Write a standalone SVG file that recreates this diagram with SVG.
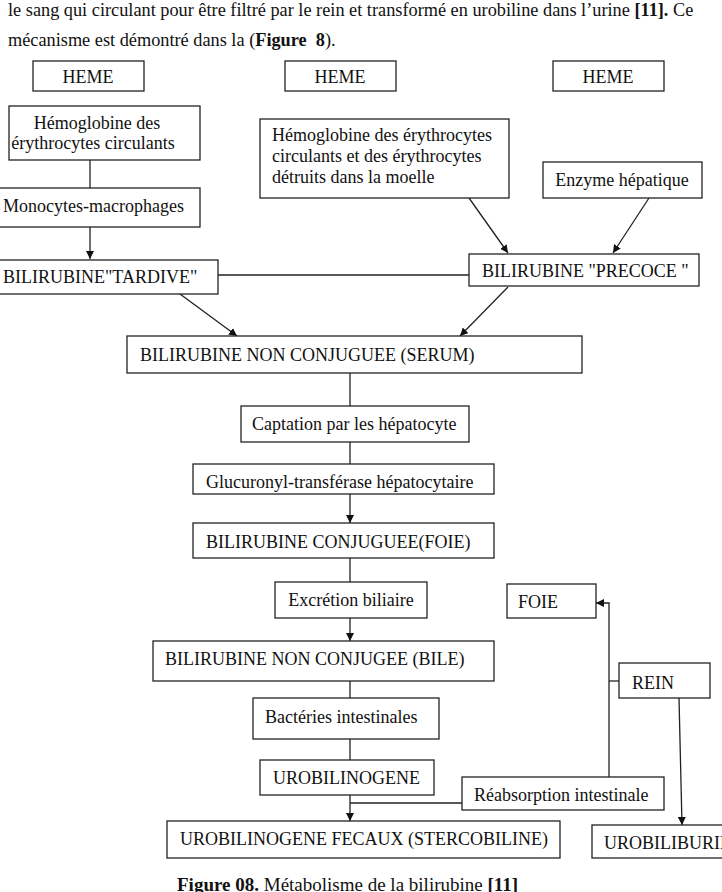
<svg xmlns="http://www.w3.org/2000/svg" width="722" height="892" viewBox="0 0 722 892">
<style>
text{font-family:"Liberation Serif","Times New Roman",serif;font-size:18px;fill:#111}
.b{font-weight:bold}
rect{fill:#fff;stroke:#222;stroke-width:1.3}
.c line,.c polyline{stroke:#222;stroke-width:1.3;fill:none}
.m{text-anchor:middle}
</style>
<defs>
<marker id="ah" viewBox="0 0 10 10" refX="10" refY="5" markerWidth="8" markerHeight="8" markerUnits="userSpaceOnUse" orient="auto">
<path d="M0,0 L10,5 L0,10 z" fill="#111"/>
</marker>
</defs>
<rect x="0" y="0" width="722" height="892" style="stroke:none"/>
<g id="para">
<text x="8" y="16" style="font-size:18.3px">le sang qui circulant pour être filtré par le rein et transformé en urobiline dans l’urine <tspan class="b">[11].</tspan> Ce</text>
<text x="8" y="46" style="font-size:18.3px">mécanisme est démontré dans la (<tspan class="b">Figure&#160; 8</tspan>).</text>
</g>
<g class="c" id="connectors">
<line x1="90" y1="160" x2="90" y2="188"/>
<line x1="90" y1="227" x2="90" y2="259" marker-end="url(#ah)"/>
<line x1="218" y1="275" x2="469" y2="275"/>
<line x1="469" y1="198" x2="508" y2="253" marker-end="url(#ah)"/>
<line x1="649" y1="198" x2="613" y2="253" marker-end="url(#ah)"/>
<line x1="180" y1="294" x2="237" y2="336" marker-end="url(#ah)"/>
<line x1="508" y1="287" x2="460" y2="336" marker-end="url(#ah)"/>
<line x1="350" y1="373" x2="350" y2="406"/>
<line x1="350" y1="442" x2="350" y2="464"/>
<line x1="350" y1="494" x2="350" y2="523" marker-end="url(#ah)"/>
<line x1="350" y1="558" x2="350" y2="582"/>
<line x1="350" y1="618" x2="350" y2="641" marker-end="url(#ah)"/>
<line x1="350" y1="681" x2="350" y2="698"/>
<line x1="350" y1="739" x2="350" y2="760"/>
<line x1="350" y1="795" x2="350" y2="821" marker-end="url(#ah)"/>
<line x1="350" y1="803" x2="462" y2="803"/>
<polyline points="609,777 609,603 596,603" marker-end="url(#ah)"/>
<line x1="609" y1="681" x2="619" y2="681"/>
<line x1="679" y1="698" x2="682" y2="825" marker-end="url(#ah)"/>
</g>
<g id="heme1"><rect x="33" y="61" width="111" height="30"/><text class="m" x="88" y="83">HEME</text></g>
<g id="heme2"><rect x="285" y="61" width="111" height="30"/><text class="m" x="340" y="83">HEME</text></g>
<g id="heme3"><rect x="553" y="61" width="111" height="30"/><text class="m" x="608" y="83">HEME</text></g>
<g id="hemo1"><rect x="9" y="106" width="191" height="54"/><text class="m" x="97" y="129">Hémoglobine des</text><text class="m" x="93" y="149">érythrocytes circulants</text></g>
<g id="mono"><rect x="-2" y="188" width="202" height="39"/><text x="3" y="212">Monocytes-macrophages</text></g>
<g id="tardive"><rect x="-2" y="260" width="220" height="34"/><text x="3" y="283">BILIRUBINE"TARDIVE"</text></g>
<g id="hemo2"><rect x="260" y="119" width="249" height="79"/><text x="272" y="141">Hémoglobine des érythrocytes</text><text x="272" y="162">circulants et des érythrocytes</text><text x="272" y="183">détruits dans la moelle</text></g>
<g id="enzyme"><rect x="543" y="162" width="159" height="36"/><text class="m" x="622" y="186">Enzyme hépatique</text></g>
<g id="precoce"><rect x="469" y="254" width="230" height="32"/><text x="482" y="277">BILIRUBINE "PRECOCE "</text></g>
<g id="serum"><rect x="127" y="336" width="455" height="37"/><text x="140" y="361">BILIRUBINE NON CONJUGUEE (SERUM)</text></g>
<g id="captation"><rect x="241" y="406" width="228" height="36"/><text x="252" y="430">Captation par les hépatocyte</text></g>
<g id="glucuronyl"><rect x="193" y="464" width="301" height="30"/><text x="206" y="488">Glucuronyl-transférase hépatocytaire</text></g>
<g id="foie1"><rect x="193" y="523" width="301" height="35"/><text x="206" y="548">BILIRUBINE CONJUGUEE(FOIE)</text></g>
<g id="excretion"><rect x="275" y="582" width="152" height="36"/><text class="m" x="351" y="606">Excrétion biliaire</text></g>
<g id="bile"><rect x="153" y="641" width="341" height="40"/><text x="165" y="665">BILIRUBINE NON CONJUGEE (BILE)</text></g>
<g id="bacteries"><rect x="253" y="698" width="186" height="41"/><text x="265" y="723">Bactéries intestinales</text></g>
<g id="urobilinogene"><rect x="260" y="760" width="174" height="35"/><text x="273" y="784">UROBILINOGENE</text></g>
<g id="reabsorption"><rect x="462" y="777" width="202" height="33"/><text x="474" y="801">Réabsorption intestinale</text></g>
<g id="foie2"><rect x="507" y="584" width="89" height="34"/><text x="518" y="608">FOIE</text></g>
<g id="rein"><rect x="619" y="663" width="91" height="35"/><text x="632" y="689">REIN</text></g>
<g id="stercobiline"><rect x="167" y="821" width="393" height="37"/><text x="180" y="845">UROBILINOGENE FECAUX (STERCOBILINE)</text></g>
<g id="urobiliburie"><rect x="592" y="825" width="140" height="33"/><text x="604" y="849">UROBILIBURIE</text></g>
<g id="caption"><text x="177" y="891" style="font-size:19px"><tspan class="b">Figure 08.</tspan> Métabolisme de la bilirubine <tspan class="b">[11]</tspan></text></g>
</svg>
